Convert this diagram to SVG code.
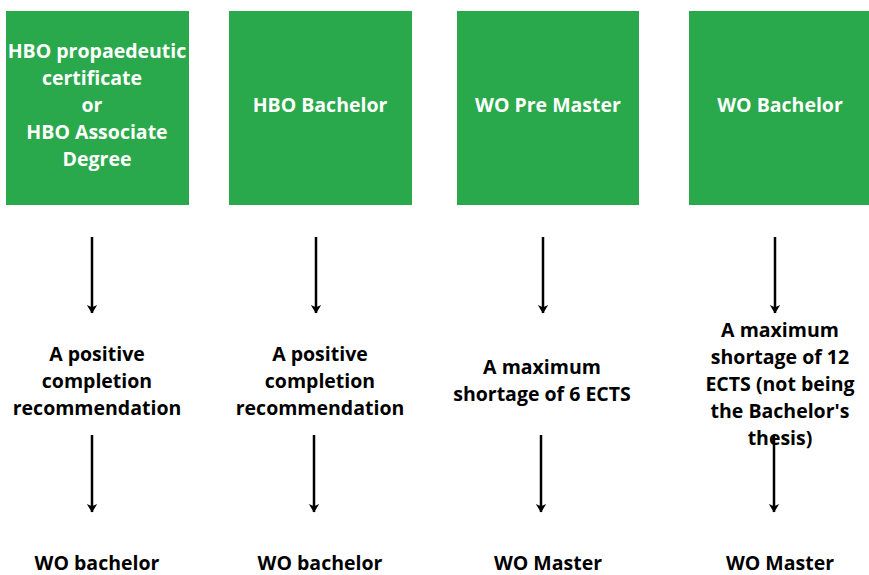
<svg xmlns="http://www.w3.org/2000/svg" width="869" height="575" viewBox="0 0 869 575">
<defs>
<style>
.box{fill:#29a94b}
.wt{fill:#fff;font-family:"Open Sans","Liberation Sans",sans-serif;font-weight:700;font-size:19.5px;text-anchor:middle}
.bt{fill:#000;font-family:"Open Sans","Liberation Sans",sans-serif;font-weight:700;font-size:19.5px;text-anchor:middle}
.arr{stroke:#000;stroke-width:2.5;fill:none;marker-end:url(#ah)}
</style>
<marker id="ah" viewBox="0 0 10 12" refX="9" refY="6" markerWidth="10" markerHeight="12" markerUnits="userSpaceOnUse" orient="auto">
<path d="M1,0.8 L9.5,6 L1,11.2 L3.2,6 Z" fill="#000"/>
</marker>
</defs>
<rect width="869" height="575" fill="#fff"/>
<g id="node-hbo-propaedeutic">
<rect class="box" x="6" y="11" width="183" height="194"/>
<text class="wt" x="97" y="58">HBO propaedeutic</text>
<text class="wt" x="92" y="85">certificate</text>
<text class="wt" x="92" y="112">or</text>
<text class="wt" x="97" y="139">HBO Associate</text>
<text class="wt" x="97" y="166">Degree</text>
</g>
<g id="node-hbo-bachelor">
<rect class="box" x="229" y="11" width="183" height="194"/>
<text class="wt" x="320" y="112">HBO Bachelor</text>
</g>
<g id="node-wo-premaster">
<rect class="box" x="457" y="11" width="182" height="194"/>
<text class="wt" x="548" y="112">WO Pre Master</text>
</g>
<g id="node-wo-bachelor">
<rect class="box" x="689" y="11" width="180" height="194"/>
<text class="wt" x="780" y="112">WO Bachelor</text>
</g>
<g id="node-cond1">
<text class="bt" x="97" y="361">A positive</text>
<text class="bt" x="97" y="388">completion</text>
<text class="bt" x="97" y="415">recommendation</text>
</g>
<g id="node-cond2">
<text class="bt" x="320" y="361">A positive</text>
<text class="bt" x="320" y="388">completion</text>
<text class="bt" x="320" y="415">recommendation</text>
</g>
<g id="node-cond3">
<text class="bt" x="542" y="374">A maximum</text>
<text class="bt" x="542" y="401">shortage of 6 ECTS</text>
</g>
<g id="node-cond4">
<text class="bt" x="780" y="337">A maximum</text>
<text class="bt" x="780" y="364">shortage of 12</text>
<text class="bt" x="780" y="391">ECTS (not being</text>
<text class="bt" x="780" y="418">the Bachelor's</text>
<text class="bt" x="780" y="445">thesis)</text>
</g>
<g id="node-res1"><text class="bt" x="97" y="570">WO bachelor</text></g>
<g id="node-res2"><text class="bt" x="320" y="570">WO bachelor</text></g>
<g id="node-res3"><text class="bt" x="548" y="570">WO Master</text></g>
<g id="node-res4"><text class="bt" x="780" y="570">WO Master</text></g>
<g id="connectors">
<line class="arr" x1="92" y1="237" x2="92" y2="313"/>
<line class="arr" x1="316" y1="237" x2="316" y2="313"/>
<line class="arr" x1="543" y1="237" x2="543" y2="313"/>
<line class="arr" x1="775" y1="237" x2="775" y2="313"/>
<line class="arr" x1="92" y1="435" x2="92" y2="512"/>
<line class="arr" x1="314" y1="435" x2="314" y2="512"/>
<line class="arr" x1="541" y1="435" x2="541" y2="512"/>
<line class="arr" x1="774" y1="435" x2="774" y2="512"/>
</g>
</svg>
